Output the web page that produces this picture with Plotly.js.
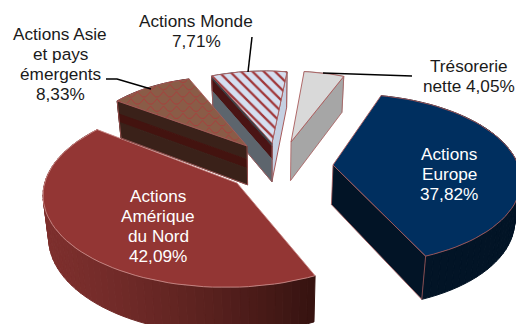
<!DOCTYPE html>
<html><head><meta charset="utf-8">
<script src="https://cdn.plot.ly/plotly-3.0.1.min.js"></script>
<style>html,body{margin:0;padding:0;background:#fff}</style></head>
<body><div id="chart" style="width:516px;height:324px"></div>
<script>
// --- data ---
const categories = ["Actions Europe","Actions Amérique du Nord","Actions Asie et pays émergents","Actions Monde","Trésorerie nette"];
const shares = [37.82,42.09,8.33,7.71,4.05];
const shareLabels = ["37,82%","42,09%","8,33%","7,71%","4,05%"];

// --- drawing geometry: 3-D perspective model of the exploded pie ---
const startAngle = 19.7, tilt = 0.5;
const apexes = [[333,165],[237,183],[247,146],[272,143],[291,142]];
const conics = [[.0061,.00100,-.0007],[.0055,.0007,.0003],[.00733,0,.00122],[.00695,0,.00037],[.00707,0,0]];
const warps = [[-.6,-2.8],[1.3,0],[-2.6,-.7],[-1.6,.9],[.2,2.2]];
const depthScale = [1,1.05,1,1,1];
const drawOrder = [0,4,3,1,2];
const topColors = ["#002f5f","#933634","#8a5c47","#d5dff0","#d9d9d9"];
const sideColors = ["#021426",null,null,"#5d656d","#a6a6a6"];
const outline = "#a85a5a";
const bands = [null,null,
  [[0,.35,"#3a2119"],[.35,.58,"#43130f"],[.58,1,"#3a2119"]],
  [[0,.1,"#3d3f44"],[.1,.42,"#4a1414"],[.42,1,"#5d656d"]],
  null];

const rad = d=>d*Math.PI/180;
let a=startAngle;const ranges=shares.map(v=>{const s=a;a+=v*3.6;return [s,a];});
function pt(i,deg){const [s,e]=ranges[i],f=(deg-s)/(e-s),d=deg+warps[i][0]+(warps[i][1]-warps[i][0])*f;
  const [c,p,q]=conics[i],t=rad(d),r=1/(c+p*Math.cos(t)+q*Math.sin(t));
  return [apexes[i][0]+r*Math.sin(t), apexes[i][1]-tilt*r*Math.cos(t)];}
const traces=[];
function poly(pts,fill,line,w,extra){traces.push(Object.assign({type:"scatter",mode:"lines",x:pts.map(p=>p[0]).concat(pts[0][0]),y:pts.map(p=>p[1]).concat(pts[0][1]),
  fill:"toself",fillcolor:fill,line:{color:line||fill,width:line?(w||.8):1},hoverinfo:"skip",showlegend:false},extra||{}));}
function mix(a,b,f){return "rgb("+a.map((v,i)=>Math.round(v+(b[i]-v)*f)).join(",")+")";}
function inside(P,V){let c=false;for(let i=0,j=V.length-1;i<V.length;j=i++){
  if((V[i][1]>P[1])!==(V[j][1]>P[1])&&P[0]<(V[j][0]-V[i][0])*(P[1]-V[i][1])/(V[j][1]-V[i][1])+V[i][0])c=!c;}return c;}

drawOrder.forEach(i=>{
  const low=P=>[P[0]+(270-P[0])*.025, P[1]+(33+.04*P[1])*depthScale[i]];
  const face=(P,bandList,side)=>{
    const A=apexes[i],lA=low(A),lP=low(P);
    if(bandList){bandList.forEach(b=>poly([
      [A[0]+(lA[0]-A[0])*b[0],A[1]+(lA[1]-A[1])*b[0]],
      [P[0]+(lP[0]-P[0])*b[0],P[1]+(lP[1]-P[1])*b[0]],
      [P[0]+(lP[0]-P[0])*b[1],P[1]+(lP[1]-P[1])*b[1]],
      [A[0]+(lA[0]-A[0])*b[1],A[1]+(lA[1]-A[1])*b[1]]],b[2]));
      traces.push({type:"scatter",mode:"lines",x:[P[0],lP[0],lA[0],A[0]],y:[P[1],lP[1],lA[1],A[1]],line:{color:outline,width:.8},hoverinfo:"skip",showlegend:false});
    } else poly([A,P,lP,lA],side,outline,.8);
  };
  const [s,e]=ranges[i],n=Math.max(8,Math.round((e-s)/2.5)),arc=[];
  for(let k=0;k<=n;k++)arc.push(pt(i,s+(e-s)*k/n));
  // outer wall
  for(let k=0;k<n;k++){
    const col=i===1?mix([125,47,45],[54,19,16],Math.pow(Math.max(0,(arc[k][0]-42)/275),1.4)):
      i===2?"#3a2119":i===3?"#5d656d":sideColors[i];
    poly([arc[k],arc[k+1],low(arc[k+1]),low(arc[k])],col);
  }
  // cut faces that look toward the viewer
  if(i===3){ // thin right wall
    const P=pt(i,e),A=apexes[i];
    poly([A,P,low(P),low(A)],"#c5d0e2",outline,1);
  }
  if(Math.cos(rad(e+90))<0&&i!==3)face(pt(i,e),bands[i],sideColors[i]||"#222");
  if(Math.cos(rad(s-90))<0)face(pt(i,s),bands[i],sideColors[i]||"#222");
  // top
  const topPts=[apexes[i]].concat(arc);
  const extra=i===3?{fillpattern:{shape:"\\",bgcolor:"#d5dff0",fgcolor:"#a0373a",size:8,solidity:.28}}:{};
  poly(topPts,topColors[i],i===1?"#c98a88":outline,.9,extra);
  if(i===2){ // scale texture
    const xs=[],ys=[];
    for(let r=0;r<14;r++){
      const y0=70+r*7.2,off=r%2?6.5:0;
      for(let sc=-1;sc<14;sc++){
        for(let t=0;t<=10;t++){
          const x=105+off+sc*13+t*1.3,y=y0+5.5*Math.sin(Math.PI*t/10);
          if(inside([x,y],topPts)){xs.push(x);ys.push(y);}else{xs.push(null);ys.push(null);}
        }
        xs.push(null);ys.push(null);
      }
    }
    traces.push({type:"scatter",mode:"lines",x:xs,y:ys,line:{color:"#a8413f",width:1},connectgaps:false,hoverinfo:"skip",showlegend:false});
  }
});

// leader lines
const leaders=[[[252,37],[248,72]],[[106,79],[117,79],[151,89]],[[323,73],[412,76]]];
leaders.forEach(L=>traces.push({type:"scatter",mode:"lines",x:L.map(p=>p[0]),y:L.map(p=>p[1]),line:{color:"#000",width:1.5},hoverinfo:"skip",showlegend:false}));

const labelLines=[
 {x:449,y:154,c:"#fff",lines:["Actions","Europe",shareLabels[0]]},
 {x:158,y:196,c:"#fff",lines:["Actions","Amérique","du Nord",shareLabels[1]]},
 {x:60,y:34,c:"#1a1a1a",lines:["Actions Asie","et pays","émergents",shareLabels[2]]},
 {x:196,y:21,c:"#1a1a1a",lines:["Actions Monde",shareLabels[3]]},
 {x:469,y:66,c:"#1a1a1a",lines:["Trésorerie","nette "+shareLabels[4]]}];
const annotations=[];
labelLines.forEach(L=>L.lines.forEach((t,k)=>annotations.push({x:L.x,y:L.y+k*19.9,xref:"x",yref:"y",text:t,showarrow:false,xanchor:"center",yanchor:"middle",
  font:{family:"Liberation Sans, Arial, sans-serif",size:17.2,color:L.c}})));

Plotly.newPlot("chart",traces,{width:516,height:324,margin:{l:0,r:0,t:0,b:0},paper_bgcolor:"#fff",plot_bgcolor:"#fff",showlegend:false,
 xaxis:{range:[0,516],visible:false,fixedrange:true},yaxis:{range:[324,0],visible:false,fixedrange:true},annotations},{staticPlot:true,displayModeBar:false});
</script></body></html>
